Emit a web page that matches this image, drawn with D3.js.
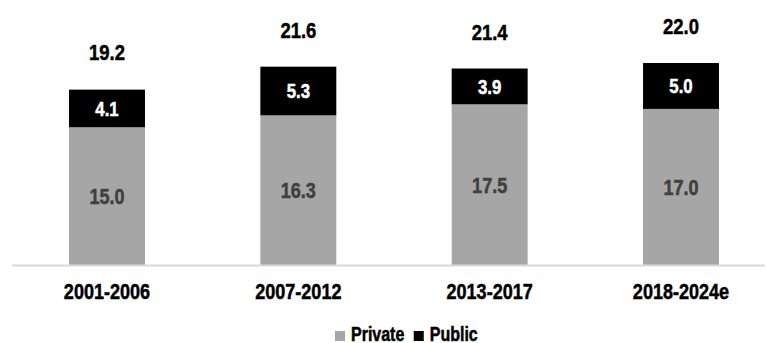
<!DOCTYPE html>
<html>
<head>
<meta charset="utf-8">
<script src="https://cdn.jsdelivr.net/npm/d3@7"></script>
<style>
  body { margin: 0; background: #fff; }
  svg text { font-family: "Liberation Sans", Arial, sans-serif; font-weight: bold; stroke-width: 0.5px; }
</style>
</head>
<body>
<svg id="chart"></svg>
<script>
const categories = ["2001-2006", "2007-2012", "2013-2017", "2018-2024e"]
const privateValues = [15.0, 16.3, 17.5, 17.0]
const publicValues = [4.1, 5.3, 3.9, 5.0]
const totals = [19.2, 21.6, 21.4, 22.0]
const seriesNames = ["Private", "Public"]

const width = 766
const height = 343
const baseY = 265
const narrow = 0.82 // squeeze Liberation Sans to look like Arial Narrow

const colors = ["#a6a6a6", "#000000"]
const labelColors = ["#404040", "#ffffff"]
const labelSizes = [22, 20.5]

const svg = d3.select("#chart").attr("width", width).attr("height", height)

const squeeze = (sel) => sel.each(function () {
  const len = this.getComputedTextLength()
  d3.select(this).attr("textLength", len * narrow).attr("lengthAdjust", "spacingAndGlyphs")
})

const x = d3.scaleBand()
  .domain(categories)
  .range([12, 776])
  .paddingInner(0.603)
  .paddingOuter(0.298)

const y = d3.scaleLinear().domain([0, 22]).range([baseY, 63])

const rows = categories.map((c, i) => ({ cat: c, Private: privateValues[i], Public: publicValues[i], total: totals[i] }))
const stacked = d3.stack().keys(seriesNames)(rows)

// bars
const layers = svg.selectAll("g.layer")
  .data(stacked)
  .join("g")
  .attr("class", "layer")
  .attr("fill", (d, i) => colors[i])

layers.selectAll("rect")
  .data((d) => d)
  .join("rect")
  .attr("x", (d) => x(d.data.cat))
  .attr("y", (d) => y(d[1]))
  .attr("width", x.bandwidth())
  .attr("height", (d) => y(d[0]) - y(d[1]))

// value labels inside segments
stacked.forEach((layer, li) => {
  svg.append("g")
    .selectAll("text")
    .data(layer)
    .join("text")
    .attr("x", (d) => x(d.data.cat) + x.bandwidth() / 2)
    .attr("y", (d) => (y(d[0]) + y(d[1])) / 2)
    .attr("dy", "0.36em")
    .attr("text-anchor", "middle")
    .attr("font-size", labelSizes[li])
    .attr("fill", labelColors[li])
    .attr("stroke", labelColors[li])
    .text((d) => (d[1] - d[0]).toFixed(1))
    .call(squeeze)
})

// totals
svg.append("g")
  .selectAll("text")
  .data(rows)
  .join("text")
  .attr("x", (d) => x(d.cat) + x.bandwidth() / 2)
  .attr("y", (d) => y(d.total) - 29)
  .attr("text-anchor", "middle")
  .attr("font-size", 22.5)
  .attr("fill", "#000")
  .attr("stroke", "#000")
  .text((d) => d.total.toFixed(1))
  .call(squeeze)

// axis line
svg.append("line")
  .attr("x1", 12).attr("x2", 765)
  .attr("y1", baseY + 0.5).attr("y2", baseY + 0.5)
  .attr("stroke", "#d9d9d9")
  .attr("stroke-width", 2)

// category labels
svg.append("g")
  .selectAll("text")
  .data(categories)
  .join("text")
  .attr("x", (d) => x(d) + x.bandwidth() / 2)
  .attr("y", 299)
  .attr("text-anchor", "middle")
  .attr("font-size", 22)
  .attr("fill", "#000")
  .attr("stroke", "#000")
  .text((d) => d)
  .call(squeeze)

// legend
const legend = svg.append("g").attr("transform", "translate(335, 0)")
let lx = 0
seriesNames.forEach((name, i) => {
  legend.append("rect")
    .attr("x", lx).attr("y", 331)
    .attr("width", 10).attr("height", 10)
    .attr("fill", colors[i])
  const t = legend.append("text")
    .attr("x", lx + 16).attr("y", 340.5)
    .attr("font-size", 19.5)
    .attr("fill", "#000")
    .attr("stroke", "#000")
    .text(name)
    .call(squeeze)
  lx += 16 + t.node().getComputedTextLength() * narrow + 19
})
</script>
</body>
</html>
